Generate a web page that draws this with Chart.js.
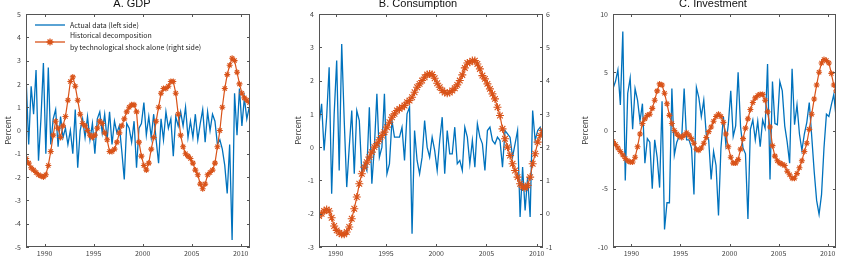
<!DOCTYPE html>
<html>
<head>
<meta charset="utf-8">
<script src="https://cdn.jsdelivr.net/npm/chart.js@4.4.1/dist/chart.umd.min.js"></script>
<style>
  html, body { margin: 0; padding: 0; background: #fff; }
  #wrap { position: relative; width: 842px; height: 267px; overflow: hidden; }
  .panel { position: absolute; top: 0; height: 267px; }
</style>
</head>
<body>
<div id="wrap">
  <div class="panel" style="left:0px;width:280px"><canvas id="gdp" width="280" height="267"></canvas></div>
  <div class="panel" style="left:280px;width:280px"><canvas id="cons" width="280" height="267"></canvas></div>
  <div class="panel" style="left:560px;width:282px"><canvas id="inv" width="282" height="267"></canvas></div>
</div>
<script>
// quarterly dates (mid-quarter), 1988-2010
var quarters = Array.from({ length: 92 }, (_, i) => 1988.125 + i / 4);
var quartersB = Array.from({ length: 90 }, (_, i) => 1988.35 + i / 4);
var yearTicks = [1990, 1995, 2000, 2005, 2010];

// A. GDP
var gdpActual = [
  2.1, -0.6, 1.9, 0.7,   2.6, -1.3, 0.5, 2.9,   -1.0, 2.7, -0.6, 0.5,
  0.9, -0.7, 0.6, -0.3,  0.1, -0.6, 0.0, -1.0,  0.9, -1.6, 0.0, 0.5,
  -0.3, 0.6, -0.4, 0.3,  -1.0, 0.5, 0.8, -0.1,  0.7, -0.4, 0.8, -0.6,
  0.4, -0.1, 0.2, -0.9,  -2.1, 0.3, 0.1, -0.5,  0.4, -1.6, 0.1, 0.3,
  1.2, -0.2, 0.6, -0.3,  0.7, -0.4, -1.4, 0.5,  -0.4, 0.8, 0.1, 0.5,
  -1.1, 0.6, 0.2, 0.8,   0.2, 1.0, -0.3, 0.4,   -0.3, 0.7, -0.4, 0.3,
  0.9, -0.5, 0.8, 0.0,   0.7, 0.4, -0.6, -0.4,  -0.8, -1.5, -2.7, -0.6,
  -4.7, 1.6, -0.2, 1.8,  0.2, 1.4, 0.5, 1.0
];
var gdpTech = [
  -1.2, -1.4, -1.6, -1.7,  -1.8, -1.9, -1.95, -2.0,  -1.9, -1.5, -0.9, -0.2,
  0.4, 0.1, -0.3, 0.2,     0.6, 1.3, 2.1, 2.3,       1.9, 1.3, 0.7, 0.3,
  0.2, 0.0, -0.2, -0.3,    -0.2, 0.1, 0.4, 0.3,      -0.1, -0.4, -0.9, -0.9,
  -0.8, -0.5, -0.1, 0.2,   0.5, 0.8, 1.0, 1.1,       1.1, 0.8, -0.5, -1.1,
  -1.5, -1.7, -1.4, -0.8,  -0.3, 0.4, 1.0, 1.6,      1.8, 1.8, 1.9, 2.1,
  2.1, 1.6, 0.7, -0.2,     -0.7, -1.0, -1.1, -1.2,   -1.4, -1.7, -1.9, -2.3,
  -2.5, -2.3, -1.9, -1.8,  -1.7, -1.4, -0.7, 0.0,    1.0, 1.8, 2.4, 2.8,
  3.1, 3.0, 2.5, 2.0,      1.6, 1.4, 1.3, 1.2
];

// B. Consumption
var consActual = [
  0.7, 1.3, -0.1, 0.9, 2.4, -1.4, 1.0, 2.6, -0.7, 3.1,
  0.8, -1.2, 0.0, 1.1, -0.8, 1.1, 0.8, -0.8, -0.5, -0.7,
  1.2, -1.1, 0.0, 1.6, -0.3, 0.0, 1.6, -0.8, -0.5, 0.8,
  0.3, 0.3, 0.3, 0.6, -0.4, 1.0, 1.2, -2.6, 0.5, -0.4,
  -0.8, -0.3, 0.8, 0.0, -0.3, 0.3, -0.1, -0.7, 0.2, 0.9,
  -0.8, 0.5, -0.2, -0.2, 0.6, -0.5, -0.4, -0.7, 0.6, 0.3,
  -0.5, 0.2, -0.6, 0.7, 0.3, 0.1, -0.7, 0.5, 0.6, 0.2,
  0.1, 0.3, 0.2, -0.6, 0.5, 0.4, 0.3, -0.3, 0.1, 0.5,
  -2.1, -0.6, -1.9, -0.9, -2.1, 1.1, 0.2, 0.5, 0.6, 0.3
];
var consTech = [
  -0.07, 0.0, 0.08, 0.13, 0.08, -0.12, -0.37, -0.5, -0.58, -0.62,
  -0.62, -0.55, -0.4, -0.15, 0.15, 0.5, 0.9, 1.2, 1.4, 1.55,
  1.7, 1.85, 2.0, 2.1, 2.22, 2.35, 2.45, 2.6, 2.75, 2.9,
  3.0, 3.1, 3.15, 3.2, 3.25, 3.35, 3.4, 3.5, 3.65, 3.8,
  3.9, 4.0, 4.1, 4.18, 4.2, 4.18, 4.07, 3.92, 3.8, 3.7,
  3.64, 3.62, 3.64, 3.7, 3.77, 3.87, 4.0, 4.17, 4.38, 4.53,
  4.55, 4.6, 4.6, 4.5, 4.35, 4.15, 4.05, 3.9, 3.75, 3.6,
  3.45, 3.2, 2.95, 2.55, 2.25, 2.0, 1.75, 1.5, 1.3, 1.1,
  0.9, 0.8, 0.78, 0.85, 1.1, 1.5, 1.8, 2.15, 2.35, 2.5
];

// C. Investment
var invActual = [
  3.6, 4.2, 5.2, 2.2,    8.5, -4.3, 3.2, 4.5,    0.1, 3.6, 2.6, 0.8,
  2.3, -2.8, -0.7, -1.0, -5.0, -0.8, -2.3, -4.9, 2.5, -8.5, -6.2, -6.2,
  3.6, -2.1, -1.0, -0.5, -0.7, 3.6, -0.8, -0.8,  -1.5, -5.5, 3.7, 2.8,
  1.2, 2.6, -0.3, -0.8,  -4.2, -1.8, -3.0, -7.3, -1.5, 1.2, -1.2, 0.5,
  3.4, -0.5, 0.4, 5.0,   0.3, -1.5, -2.0, -7.6,  0.1, 0.9, -0.8, 0.8,
  -1.4, 0.9, 0.2, 5.7,   -4.2, 4.2, 0.6, 0.5,    4.2, 3.4, 0.4, -1.0,
  -2.8, 5.3, 0.5, 2.2,   -0.3, -1.7, -0.3, 0.7,  2.4, -0.5, -3.5, -6.0,
  -7.2, -5.5, -1.5, 1.4, 1.2, 2.2, 3.1, 1.0
];
var invTech = [
  -0.95, -1.2, -1.5, -1.8,  -2.1, -2.4, -2.6, -2.7,  -2.7, -2.3, -1.4, -0.3,
  0.6, 1.0, 1.3, 1.4,       1.9, 2.6, 3.4, 4.0,      3.9, 3.2, 2.3, 1.3,
  0.6, 0.0, -0.3, -0.5,     -0.6, -0.4, -0.2, -0.4,  -0.7, -1.1, -1.6, -1.7,
  -1.5, -1.1, -0.6, -0.1,   0.3, 0.8, 1.2, 1.4,      1.2, 0.7, -0.3, -1.4,
  -2.3, -2.8, -2.8, -2.5,   -1.6, -0.7, 0.2, 1.0,    1.8, 2.4, 2.8, 3.0,
  3.1, 3.1, 2.6, 1.6,       0.3, -1.3, -2.2, -2.6,   -2.8, -2.9, -3.0, -3.5,
  -3.8, -4.1, -4.1, -3.7,   -3.2, -2.6, -1.8, -1.1,  0.1, 1.4, 2.7, 3.9,
  5.0, 5.8, 6.1, 6.0,       5.8, 4.9, 3.9, 3.4
];

var BLUE = "#0072BD";
var ORANGE = "#D95319";
var SMALL = '"Noto Sans CJK JP", "Liberation Sans", sans-serif';

function pts(xs, ys) {
  return ys.map((y, i) => ({ x: xs[i], y: y }));
}

// box, inward tick marks, panel title and (optional) legend
var frame = {
  id: "frame",
  afterDraw(chart, args, opts) {
    var ctx = chart.ctx, a = chart.chartArea;
    var sx = chart.scales.x, sy = chart.scales.y;
    ctx.save();
    ctx.strokeStyle = "#555";
    ctx.lineWidth = 1;
    ctx.strokeRect(Math.round(a.left) + 0.5, Math.round(a.top) + 0.5,
                   Math.round(a.width) - 1, Math.round(a.height) - 1);
    ctx.beginPath();
    sx.ticks.forEach(t => {
      var px = Math.round(sx.getPixelForValue(t.value)) + 0.5;
      ctx.moveTo(px, a.bottom); ctx.lineTo(px, a.bottom - 3);
      ctx.moveTo(px, a.top); ctx.lineTo(px, a.top + 3);
    });
    sy.ticks.forEach(t => {
      var py = Math.round(sy.getPixelForValue(t.value)) + 0.5;
      ctx.moveTo(a.left, py); ctx.lineTo(a.left + 3, py);
      ctx.moveTo(a.right, py); ctx.lineTo(a.right - 3, py);
    });
    ctx.stroke();

    ctx.fillStyle = "#111";
    ctx.font = '11px "Liberation Sans", Arial, sans-serif';
    ctx.textAlign = "center";
    ctx.textBaseline = "alphabetic";
    ctx.fillText(opts.title, opts.titleX, 7);

    if (opts.legend) {
      var lx = a.left + 9, ly = a.top + 11;
      ctx.font = "7px " + SMALL;
      ctx.textAlign = "left";
      ctx.textBaseline = "middle";
      ctx.fillStyle = "#222";
      ctx.lineWidth = 1.3;
      ctx.strokeStyle = BLUE;
      ctx.beginPath(); ctx.moveTo(lx, ly); ctx.lineTo(lx + 30, ly); ctx.stroke();
      ctx.fillText("Actual data (left side)", lx + 35, ly);
      var oy = ly + 17;
      ctx.strokeStyle = ORANGE;
      ctx.beginPath(); ctx.moveTo(lx, oy); ctx.lineTo(lx + 30, oy); ctx.stroke();
      Chart.helpers.drawPoint(ctx, { pointStyle: "star", radius: 3.5, rotation: 0, borderWidth: 1.2 }, lx + 15, oy);
      ctx.fillText("Historical decomposition", lx + 35, ly + 10);
      ctx.fillText("by technological shock alone (right side)", lx + 35, ly + 22);
    }
    ctx.restore();
  }
};

function makePanel(id, cfg) {
  var yRight = cfg.right
    ? {
        position: "right", min: cfg.right.min, max: cfg.right.max,
        grid: { display: false, drawTicks: false }, border: { display: false },
        ticks: { stepSize: 1, padding: 3, color: "#444", font: { size: 7, family: SMALL } },
        afterFit: s => { s.width = cfg.rightWidth; }
      }
    : { display: false, min: cfg.yMin, max: cfg.yMax };

  return new Chart(document.getElementById(id), {
    type: "line",
    data: {
      datasets: [
        {
          label: "Actual data (left side)",
          data: pts(cfg.xs, cfg.actual),
          borderColor: BLUE, borderWidth: 1.3, pointRadius: 0,
          tension: 0, yAxisID: "y", order: 2
        },
        {
          label: "Historical decomposition by technological shock alone (right side)",
          data: pts(cfg.xs, cfg.tech),
          borderColor: ORANGE, borderWidth: 1.2,
          pointStyle: "star", pointRadius: cfg.starSize, pointBorderWidth: 1.1,
          pointBorderColor: ORANGE, pointBackgroundColor: ORANGE,
          tension: 0, yAxisID: "y2", order: 1
        }
      ]
    },
    options: {
      responsive: false,
      animation: false,
      events: [],
      layout: { padding: { top: 14, left: 0, right: cfg.rightPad, bottom: 0 } },
      plugins: {
        legend: { display: false },
        tooltip: { enabled: false },
        frame: { title: cfg.title, titleX: cfg.titleX, legend: cfg.legend }
      },
      scales: {
        x: {
          type: "linear", min: cfg.xMin, max: cfg.xMax,
          grid: { display: false, drawTicks: false }, border: { display: false },
          afterBuildTicks: s => { s.ticks = yearTicks.map(v => ({ value: v })); },
          ticks: { padding: 2, color: "#444", font: { size: 7, family: SMALL }, callback: v => String(v) },
          afterFit: s => { s.height = 20; }
        },
        y: {
          position: "left", min: cfg.yMin, max: cfg.yMax,
          grid: { display: false, drawTicks: false }, border: { display: false },
          ticks: { stepSize: cfg.yStep, padding: 5, color: "#444", font: { size: 7, family: SMALL } },
          title: {
            display: true, text: "Percent", color: "#333",
            font: { size: 8, family: SMALL }, padding: { top: cfg.titlePad, bottom: 0 }
          },
          afterFit: s => { s.width = cfg.leftWidth; }
        },
        y2: yRight
      }
    },
    plugins: [frame]
  });
}

makePanel("gdp", {
  xs: quarters, actual: gdpActual, tech: gdpTech,
  xMin: 1988.1, xMax: 2010.95, yMin: -5, yMax: 5, yStep: 1,
  leftWidth: 26, rightPad: 30, titlePad: 3, starSize: 3,
  title: "A. GDP", titleX: 132, legend: true
});

makePanel("cons", {
  xs: quartersB, actual: consActual, tech: consTech,
  xMin: 1988.34, xMax: 2010.63, yMin: -3, yMax: 4, yStep: 1,
  right: { min: -1, max: 6 }, rightWidth: 17,
  leftWidth: 39, rightPad: 0, titlePad: 13, starSize: 4,
  title: "B. Consumption", titleX: 138, legend: false
});

makePanel("inv", {
  xs: quarters, actual: invActual, tech: invTech,
  xMin: 1988.125, xMax: 2010.85, yMin: -10, yMax: 10, yStep: 5,
  leftWidth: 53, rightPad: 6, titlePad: 20, starSize: 3,
  title: "C. Investment", titleX: 153, legend: false
});
</script>
</body>
</html>
